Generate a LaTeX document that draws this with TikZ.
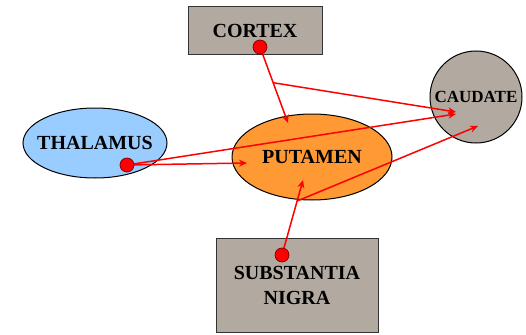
\documentclass[tikz,border=0pt]{standalone}
\usepackage{fontspec}
\setmainfont{Liberation Serif}
\usetikzlibrary{arrows.meta,calc,shapes.geometric}
\definecolor{boxgray}{RGB}{178,170,160}
\definecolor{thalblue}{RGB}{153,204,255}
\definecolor{putorange}{RGB}{255,153,51}
\tikzset{
  lbl/.style={font=\bfseries\fontsize{20}{25}\selectfont, text=black},
  grayrect/.style={draw=black!80, line width=1pt, fill=boxgray, inner sep=0pt},
  conn/.style={draw=red, line width=1.5pt, -{Stealth[length=8pt,width=7pt]}},
  rdot/.style={circle, fill=red, draw=red!50!black, line width=0.7pt, minimum size=14pt, inner sep=0pt}
}
\begin{document}
\begin{tikzpicture}[x=1pt,y=-1pt]
\useasboundingbox (0,0) rectangle (526,334);
% structures
\node[grayrect, minimum width=134pt, minimum height=48pt, lbl] (cortex) at (255,31) {CORTEX};
\node[grayrect, minimum width=162pt, minimum height=94pt, lbl, align=center] (sn) at (297,285) {SUBSTANTIA\\NIGRA};
\node[circle, draw=black, line width=1pt, fill=boxgray, minimum size=92pt, inner sep=-10pt,
      font=\bfseries\fontsize{17}{20}\selectfont] (caudate) at (476,97) {CAUDATE};
\node[ellipse, draw=black, line width=1pt, fill=thalblue, minimum width=144pt, minimum height=70pt, inner xsep=-14pt, inner ysep=0pt, lbl] (thal) at (95,143) {THALAMUS};
\node[ellipse, draw=black, line width=1pt, fill=putorange, minimum width=160pt, minimum height=86pt, inner xsep=-8pt, inner ysep=0pt, lbl] (put) at (312,157) {PUTAMEN};
% dots
\coordinate (cdotc) at (260,47);
\coordinate (tdotc) at (127,165);
\coordinate (sdotc) at (282,255);
% targets
\coordinate (putA) at (288,123);
\coordinate (putB) at (247,163);
\coordinate (putC) at (303,180);
\coordinate (caudA) at (456,112);
\coordinate (caudB) at (456,114);
\coordinate (caudC) at (478,126);
\coordinate (cbr) at ($(cdotc)!0.47!(putA)$);
\coordinate (sbr) at ($(sdotc)!0.72!(putC)$);
% connectors
\draw[conn] (cdotc) -- (putA);
\draw[conn] (cbr) -- (caudA);
\draw[conn] (tdotc) -- (putB);
\draw[conn] (tdotc) -- (caudB);
\draw[conn] (sdotc) -- (putC);
\draw[conn] (sbr) -- (caudC);
\node[rdot] (cdot) at (cdotc) {};
\node[rdot] (tdot) at (tdotc) {};
\node[rdot] (sdot) at (sdotc) {};
\end{tikzpicture}
\end{document}
